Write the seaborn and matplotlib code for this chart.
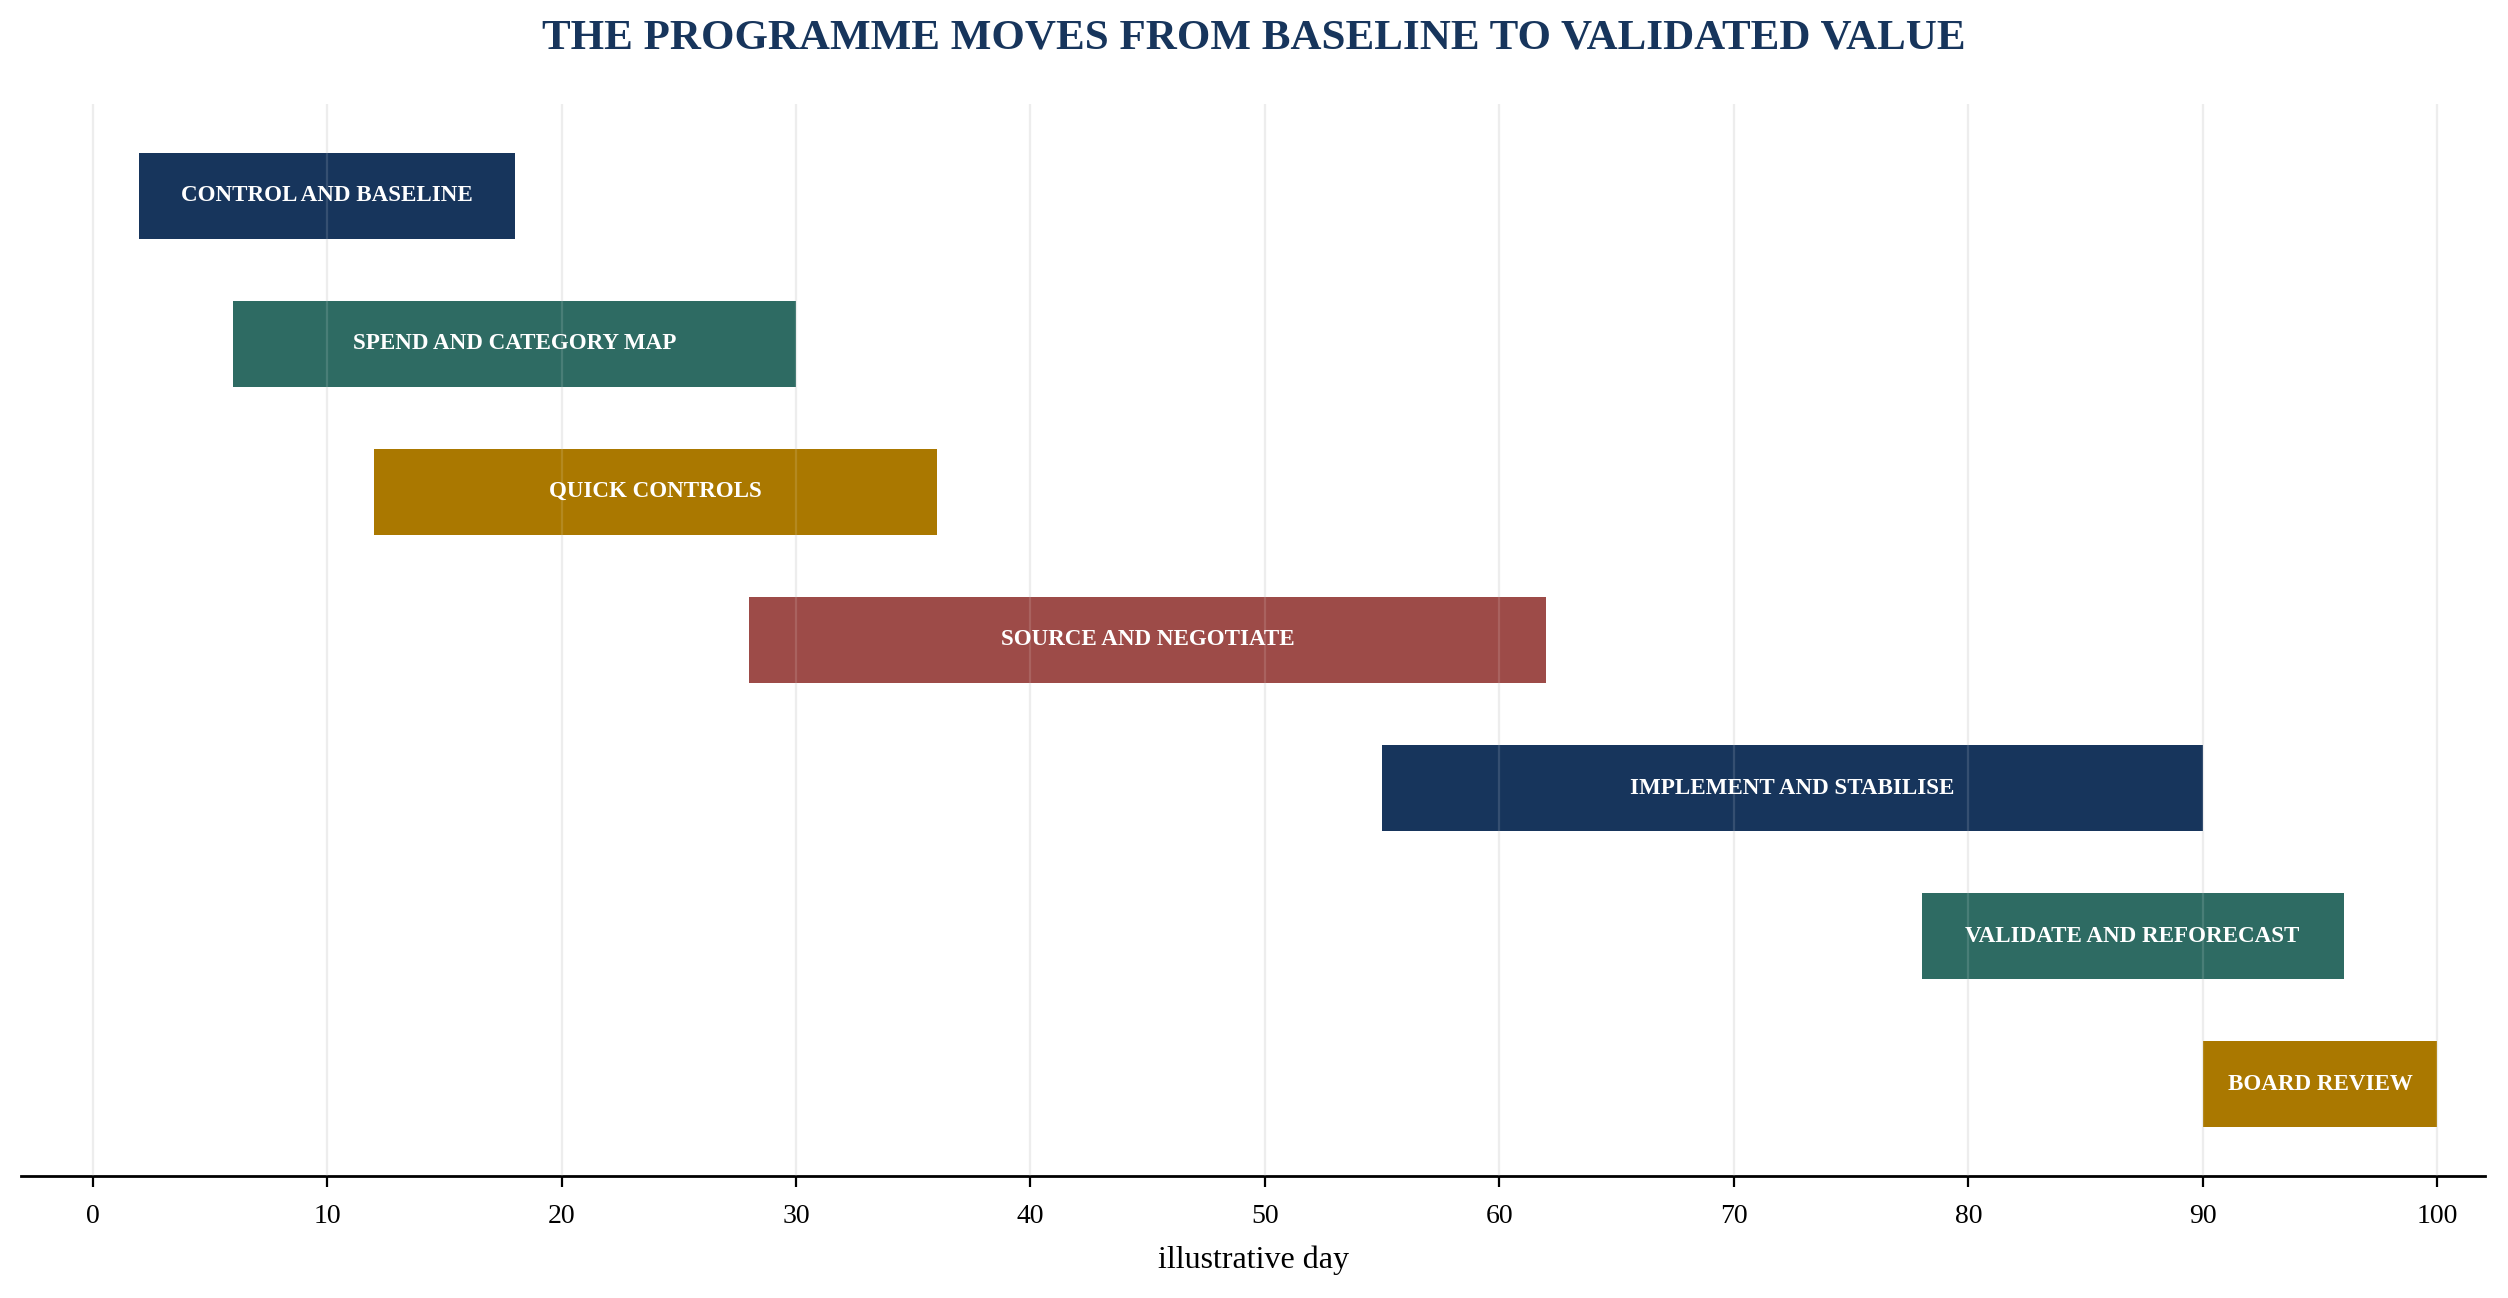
import pandas as pd
import matplotlib.pyplot as plt
import seaborn as sns

# ---------------------------
# Data
# ---------------------------

phases = [
    "CONTROL AND BASELINE",
    "SPEND AND CATEGORY MAP",
    "QUICK CONTROLS",
    "SOURCE AND NEGOTIATE",
    "IMPLEMENT AND STABILISE",
    "VALIDATE AND REFORECAST",
    "BOARD REVIEW",
]
start_day = [2, 6, 12, 28, 55, 78, 90]
end_day = [18, 30, 36, 62, 90, 96, 100]
bar_colours = ["#17355c", "#2e6b63", "#aa7800", "#9d4b48",
               "#17355c", "#2e6b63", "#aa7800"]
day_ticks = list(range(0, 101, 10))

df = pd.DataFrame({"phase": phases, "start": start_day, "end": end_day})
df["mid"] = (df["start"] + df["end"]) / 2

# ---------------------------
# Style
# ---------------------------

sns.set_style("white")
plt.rcParams["font.family"] = ["Liberation Serif", "DejaVu Serif"]

fig = plt.figure(figsize=(12.54, 6.49), dpi=200)
ax = fig.add_axes([0.0084, 0.094, 0.9826, 0.826])

sns.barplot(
    data=df, x="end", y="phase", hue="phase",
    order=phases, hue_order=phases,
    palette=bar_colours, width=0.58, legend=False,
    saturation=1, ax=ax, zorder=2,
)

# turn the 0->end bars into start->end bars
for patch, (_, row) in zip(ax.patches, df.iterrows()):
    patch.set_x(row["start"])
    patch.set_width(row["end"] - row["start"])
    patch.set_linewidth(0)

for i, row in df.iterrows():
    ax.text(row["mid"], i, row["phase"], ha="center", va="center",
            color="white", fontsize=8.3, fontweight="bold", zorder=4)

ax.set_xlim(-3.05, 102.05)
ax.set_ylim(6.62, -0.62)
ax.set_xticks(day_ticks)
ax.set_yticks([])
ax.set_ylabel("")
ax.set_xlabel("illustrative day", fontsize=11.5, labelpad=6, color="black")

# grid under the bars, plus a faint light trace over them
ax.grid(axis="x", color="#ebebeb", linewidth=0.8)
ax.set_axisbelow(True)
ax.vlines(day_ticks, 0, 1, transform=ax.get_xaxis_transform(),
          color="white", alpha=0.13, linewidth=0.8, zorder=3)

for s in ["top", "left", "right"]:
    ax.spines[s].set_visible(False)
ax.spines["bottom"].set_color("black")
ax.spines["bottom"].set_linewidth(1.0)
ax.tick_params(axis="x", bottom=True, length=4, width=0.8,
               colors="black", labelsize=10, pad=6)

fig.suptitle("THE PROGRAMME MOVES FROM BASELINE TO VALIDATED VALUE",
             x=0.5, y=0.985, fontsize=15.5, fontweight="bold", color="#17355c")

plt.savefig("out.png", dpi=200)
plt.close()
